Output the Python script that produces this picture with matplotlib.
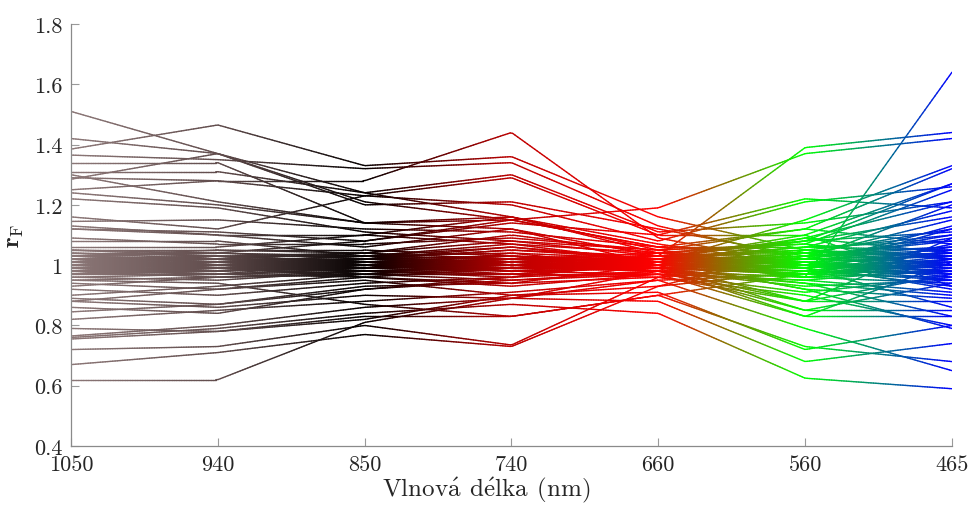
import numpy as np
import matplotlib
matplotlib.use("Agg")
import matplotlib.pyplot as plt
from matplotlib.collections import LineCollection

plt.rcParams["font.family"] = "serif"
plt.rcParams["font.serif"] = ["cmr10", "DejaVu Serif"]
plt.rcParams["mathtext.fontset"] = "cm"
plt.rcParams["axes.formatter.use_mathtext"] = True

wavelengths = ["1050", "940", "850", "740", "660", "560", "465"]
ytick_values = [0.4, 0.6, 0.8, 1.0, 1.2, 1.4, 1.6, 1.8]
ytick_labels = ["0.4", "0.6", "0.8", "1", "1.2", "1.4", "1.6", "1.8"]

# colour of the line at each wavelength (RGB), interpolated in between
band_colors = [
    (0.55, 0.47, 0.47),
    (0.38, 0.30, 0.30),
    (0.02, 0.00, 0.00),
    (0.74, 0.00, 0.00),
    (1.00, 0.00, 0.00),
    (0.00, 1.00, 0.00),
    (0.00, 0.00, 1.00),
]

# r_F per sample, columns follow `wavelengths`
upper_lines = [
    [1.51, 1.37, 1.24, 1.16, 1.04, 1.00, 0.98],
    [1.42, 1.37, 1.20, 1.21, 1.12, 1.03, 1.08],
    [1.385, 1.465, 1.33, 1.36, 1.16, 1.05, 1.03],
    [1.365, 1.35, 1.32, 1.34, 1.13, 1.02, 1.01],
    [1.34, 1.34, 1.14, 1.16, 1.05, 0.99, 1.12],
    [1.31, 1.31, 1.24, 1.30, 1.11, 1.14, 1.21],
    [1.30, 1.21, 1.14, 1.12, 1.03, 1.08, 1.27],
    [1.29, 1.28, 1.23, 1.29, 1.10, 1.22, 1.19],
    [1.285, 1.37, 1.21, 1.15, 1.06, 1.06, 1.05],
    [1.25, 1.28, 1.28, 1.44, 1.09, 1.00, 1.04],
    [1.24, 1.20, 1.14, 1.15, 1.19, 1.37, 1.42],
    [1.22, 1.19, 1.11, 1.08, 1.03, 1.39, 1.44],
    [1.16, 1.12, 1.23, 1.20, 1.08, 1.21, 1.26],
    [1.145, 1.15, 1.12, 1.11, 1.06, 1.12, 1.32],
    [1.13, 1.10, 1.10, 1.07, 1.01, 1.15, 1.33],
    [1.12, 1.11, 1.08, 1.14, 1.10, 1.10, 1.27],
    [1.12, 1.10, 1.06, 1.12, 1.00, 1.09, 1.21],
    [1.09, 1.07, 1.07, 1.09, 1.05, 1.07, 1.25],
    [1.08, 1.08, 1.03, 1.06, 1.02, 0.96, 1.64],
    [1.06, 1.06, 1.10, 1.16, 1.07, 1.00, 1.13],
    [1.05, 1.05, 1.04, 1.10, 1.04, 1.08, 1.16],
    [1.05, 1.04, 1.08, 1.15, 1.06, 1.04, 1.12],
]

lower_lines = [
    [0.62, 0.62, 0.81, 0.89, 0.95, 0.97, 1.00],
    [0.67, 0.71, 0.77, 0.73, 0.93, 0.98, 0.95],
    [0.72, 0.73, 0.80, 0.735, 0.96, 1.00, 0.97],
    [0.755, 0.78, 0.83, 0.83, 0.90, 0.73, 0.68],
    [0.76, 0.79, 0.84, 0.87, 0.84, 0.625, 0.59],
    [0.765, 0.80, 0.86, 0.89, 0.88, 0.68, 0.74],
    [0.79, 0.78, 0.82, 0.90, 0.91, 0.72, 0.80],
    [0.82, 0.85, 0.88, 0.91, 0.95, 0.79, 0.65],
    [0.845, 0.87, 0.92, 0.95, 0.97, 0.83, 0.83],
    [0.88, 0.86, 0.90, 0.89, 0.98, 0.85, 0.85],
    [0.89, 0.87, 0.93, 0.94, 1.00, 0.88, 0.88],
    [0.90, 0.93, 0.97, 0.97, 0.96, 0.90, 0.80],
    [0.92, 0.90, 0.94, 0.96, 1.01, 0.92, 0.79],
    [0.93, 0.96, 0.98, 0.99, 0.99, 0.94, 0.83],
    [0.94, 0.92, 0.96, 0.93, 0.97, 0.95, 0.91],
    [0.88, 0.92, 0.95, 0.90, 0.93, 1.05, 1.10],
    [0.86, 0.84, 0.92, 0.96, 1.02, 1.10, 0.93],
    [0.95, 0.94, 0.87, 0.83, 0.90, 0.97, 1.02],
]

band_lines = [
    [1.00, 1.00, 1.00, 1.00, 1.00, 1.00, 1.00],
    [1.01, 1.02, 1.00, 0.99, 1.00, 1.01, 0.99],
    [0.99, 0.98, 1.00, 1.01, 1.00, 0.99, 1.02],
    [1.02, 1.01, 1.01, 1.02, 1.01, 1.02, 1.03],
    [0.98, 0.99, 0.99, 0.98, 0.99, 0.98, 0.97],
    [1.03, 1.02, 1.02, 1.03, 1.02, 1.03, 1.05],
    [0.97, 0.97, 0.98, 0.99, 0.99, 0.97, 0.96],
    [1.04, 1.03, 1.01, 1.00, 1.01, 1.04, 1.06],
    [0.96, 0.97, 0.99, 1.00, 0.98, 0.96, 0.94],
    [1.00, 1.01, 1.03, 1.04, 1.02, 1.00, 1.01],
    [1.01, 0.99, 0.98, 0.97, 1.00, 1.02, 1.04],
    [0.99, 1.00, 1.02, 1.03, 1.01, 0.98, 0.98],
    [1.02, 1.03, 1.04, 1.02, 0.99, 0.97, 1.07],
    [0.98, 0.96, 0.97, 1.01, 1.03, 1.05, 1.00],
    [1.03, 1.04, 1.02, 1.05, 1.03, 1.01, 0.96],
    [0.97, 0.98, 1.01, 0.98, 0.97, 0.95, 0.99],
    [1.00, 0.99, 0.97, 0.99, 1.02, 1.06, 1.08],
    [1.01, 1.00, 1.01, 1.03, 0.98, 0.93, 0.95],
    [0.99, 1.01, 1.00, 1.02, 1.04, 1.07, 1.02],
    [1.02, 1.00, 0.99, 1.01, 1.00, 0.99, 0.93],
    [0.98, 1.01, 1.03, 1.00, 0.99, 1.02, 1.10],
    [1.04, 1.02, 1.00, 0.98, 1.01, 0.96, 0.98],
    [0.96, 0.95, 0.98, 0.97, 1.00, 1.03, 1.04],
    [1.00, 1.02, 1.02, 1.01, 1.03, 1.00, 0.97],
    [1.01, 1.03, 0.99, 1.04, 0.99, 1.01, 1.03],
    [0.99, 0.97, 1.01, 1.00, 1.01, 1.08, 1.11],
    [1.03, 1.01, 0.98, 0.96, 0.98, 0.94, 0.90],
    [0.97, 1.00, 0.99, 1.02, 1.02, 0.99, 1.06],
    [1.02, 0.99, 1.02, 1.06, 1.01, 1.04, 1.00],
    [1.00, 0.98, 1.00, 0.97, 0.97, 0.91, 0.96],
    [1.05, 1.03, 1.03, 1.07, 1.04, 1.02, 1.09],
    [0.95, 0.96, 0.97, 0.95, 0.98, 1.00, 0.92],
    [1.01, 1.02, 1.04, 1.08, 1.05, 1.12, 1.07],
    [0.99, 0.99, 0.96, 0.94, 0.96, 0.88, 0.97],
    [1.03, 1.05, 1.05, 1.03, 1.00, 1.03, 1.15],
    [0.98, 0.97, 0.96, 0.99, 1.01, 0.92, 0.89],
    [1.00, 1.03, 1.01, 1.00, 1.02, 1.05, 1.02],
    [1.02, 1.02, 0.99, 1.01, 0.99, 1.00, 0.99],
    [0.97, 0.99, 1.02, 1.05, 1.02, 1.09, 1.04],
    [1.01, 1.00, 1.00, 0.99, 1.01, 0.97, 1.01],
    [1.00, 1.01, 0.99, 1.00, 0.99, 1.02, 1.00],
    [0.99, 1.00, 1.01, 0.99, 1.00, 0.98, 1.03],
    [1.01, 1.01, 1.02, 1.00, 1.02, 1.01, 0.98],
    [1.02, 1.00, 1.01, 1.03, 1.00, 0.97, 1.05],
    [0.98, 0.98, 0.99, 1.01, 0.98, 0.96, 1.02],
    [1.00, 0.99, 1.01, 1.02, 1.01, 1.03, 1.06],
    [1.03, 1.02, 1.00, 0.99, 1.03, 1.04, 0.97],
    [0.97, 0.99, 1.00, 0.98, 0.99, 1.00, 0.95],
    [1.01, 1.00, 0.98, 1.00, 1.00, 0.85, 0.94],
    [0.99, 1.01, 1.00, 1.01, 0.99, 0.83, 1.01],
    [1.02, 1.03, 1.01, 0.99, 0.98, 0.88, 1.09],
    [1.00, 1.00, 1.02, 1.01, 1.02, 1.06, 1.18],
    [0.98, 1.00, 0.99, 1.02, 1.01, 0.99, 0.86],
    [1.04, 1.04, 1.03, 1.02, 1.00, 1.02, 1.20],
]


def gradient_segments(values, n_fine=360):
    xs = np.arange(len(values))
    xf = np.linspace(0, len(values) - 1, n_fine)
    yf = np.interp(xf, xs, values)
    pts = np.column_stack([xf, yf])
    segs = np.stack([pts[:-1], pts[1:]], axis=1)
    xm = 0.5 * (xf[:-1] + xf[1:])
    cols = np.array([np.interp(xm, xs, [c[k] for c in band_colors]) for k in range(3)]).T
    return segs, cols


fig, ax = plt.subplots(figsize=(9.72, 5.06), dpi=100)
fig.subplots_adjust(left=0.073, right=0.9794, bottom=0.1166, top=0.9506)

all_segs, all_cols = [], []
for line in upper_lines + lower_lines + band_lines:
    s, c = gradient_segments(line)
    all_segs.append(s)
    all_cols.append(c)
lc = LineCollection(np.concatenate(all_segs), colors=np.concatenate(all_cols),
                    linewidths=1.0, capstyle="round")
ax.add_collection(lc)

ax.set_xlim(0, len(wavelengths) - 1)
ax.set_ylim(0.4, 1.8)
ax.set_xticks(range(len(wavelengths)))
ax.set_xticklabels(wavelengths)
ax.set_yticks(ytick_values)
ax.set_yticklabels(ytick_labels)

for side in ["top", "right"]:
    ax.spines[side].set_visible(False)
for side in ["left", "bottom"]:
    ax.spines[side].set_color("#8a8a8a")
    ax.spines[side].set_linewidth(0.9)
ax.tick_params(direction="in", length=6, width=0.8, color="#9a9a9a",
               labelsize=16, labelcolor="#262626", pad=6)

ax.set_xlabel(r"$\mathrm{Vlnov\acute{a}\;\,d\acute{e}lka\;\,(nm)}$", fontsize=18,
              color="#262626")
ax.xaxis.set_label_coords(0.471, -0.068)
ax.set_ylabel(r"$\mathbf{r}_\mathrm{F}$", fontsize=18, color="#262626", labelpad=6)

fig.savefig("out.png", dpi=100)
